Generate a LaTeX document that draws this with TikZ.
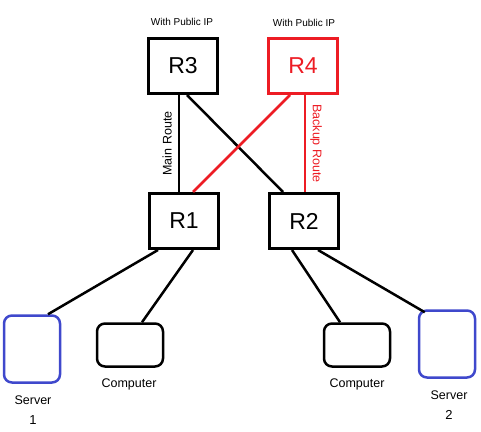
\documentclass[tikz,border=0pt]{standalone}
\usepackage{fontspec}
\setmainfont{Liberation Sans}
\usetikzlibrary{positioning}

\definecolor{pred}{RGB}{237,28,36}
\definecolor{pblue}{RGB}{63,72,204}

\begin{document}
\begin{tikzpicture}[x=1pt, y=-1pt,
		router/.style={draw, line width=3pt, minimum width=69pt, minimum height=55pt, inner sep=0pt, font=\fontsize{23}{23}\selectfont},
		server/.style={draw=pblue, line width=2.5pt, rounded corners=8pt, minimum width=56pt, minimum height=67pt, inner sep=0pt},
		pc/.style={draw, line width=2.5pt, rounded corners=8pt, minimum width=66pt, minimum height=43pt, inner sep=0pt},
		link/.style={line width=2.5pt},
		tag/.style={font=\fontsize{10}{12}\selectfont, inner sep=0pt},
		lbl/.style={font=\fontsize{12.5}{14}\selectfont, inner sep=0pt, align=center}]
		
		\useasboundingbox (0,0) rectangle (481,431);
		
		\node[router] (R3) at (183,66) {R3};
		\node[router, draw=pred, text=pred] (R4) at (303,66) {R4};
		\node[router] (R1) at (184,221) {R1};
		\node[router] (R2) at (304,221) {R2};
		
		\node[tag] (ip3) at (182,22) {With Public IP};
		\node[tag] (ip4) at (304,23) {With Public IP};
		
		\node[server] (S1) at (32,349) {};
		\node[pc] (C1) at (130,345) {};
		\node[pc] (C2) at (357,345) {};
		\node[server] (S2) at (447,344) {};
		
		\node[lbl] (s1l) at (33,410) {Server\\[6pt]\fontsize{13}{14}\selectfont 1};
		\node[lbl] (c1l) at (129,384) {Computer};
		\node[lbl] (c2l) at (357,384) {Computer};
		\node[lbl] (s2l) at (449,405) {Server\\[6pt]\fontsize{13}{14}\selectfont 2};
		
		% uplinks
		\draw[link] ([xshift=-4pt]R3.south) -- node[rotate=90, left=6pt, anchor=south, lbl] {Main Route} ([xshift=-5pt]R1.north);
		\draw[link] ([xshift=4pt]R3.south) -- ([xshift=-21pt]R2.north);
		\draw[link, pred] ([xshift=-13pt]R4.south) -- ([xshift=9pt]R1.north);
		\draw[link, pred] ([xshift=2pt]R4.south) -- node[rotate=-90, lbl, anchor=south, inner ysep=4pt, text=pred] {Backup Route} ([xshift=1pt]R2.north);
		
		% hosts
		\draw[link] ([xshift=-26pt]R1.south) -- ([xshift=16pt]S1.north);
		\draw[link] ([xshift=9pt]R1.south) -- ([xshift=12pt]C1.north);
		\draw[link] ([xshift=-12pt]R2.south) -- ([xshift=-17pt]C2.north);
		\draw[link] ([xshift=14pt]R2.south) -- ([xshift=7pt, yshift=-3pt]S2.north west);
		
		\end{tikzpicture}
\end{document}
